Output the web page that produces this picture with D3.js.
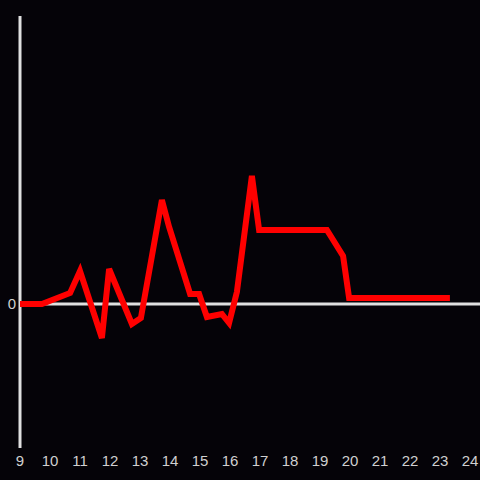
<!DOCTYPE html>
<html>
<head>
<meta charset="utf-8">
<script src="https://cdn.jsdelivr.net/npm/d3@7"></script>
<style>
  html, body { margin: 0; padding: 0; background: #050308; }
  svg { display: block; }
</style>
</head>
<body>
<div id="chart"></div>
<script>
// hour of day and value
const hours = [9, 9.73, 10.67, 11.0, 11.73, 11.97, 12.73, 13.03, 13.73, 13.97, 14.67, 14.97, 15.23, 15.73, 15.97, 16.23, 16.73, 16.97, 19.23, 19.77, 19.97, 23.33]
const values = [0, 0, 0.11, 0.33, -0.34, 0.35, -0.2, -0.14, 1.04, 0.77, 0.1, 0.1, -0.13, -0.1, -0.19, 0.12, 1.28, 0.74, 0.74, 0.48, 0.06, 0.06]
const xTicks = [9, 10, 11, 12, 13, 14, 15, 16, 17, 18, 19, 20, 21, 22, 23, 24]
const yTicks = [0]

const width = 480
const height = 480

const svg = d3.select('#chart')
    .append('svg')
    .attr('width', width)
    .attr('height', height)

svg.append('rect')
    .attr('width', width)
    .attr('height', height)
    .attr('fill', '#050308')

const x = d3.scaleLinear().domain([9, 24]).range([20, 470])
const y = d3.scaleLinear().domain([-1.44, 2.88]).range([448, 16])

// y axis line
svg.append('line')
    .attr('x1', 20).attr('x2', 20)
    .attr('y1', 16).attr('y2', 448)
    .attr('stroke', '#e0e0e0')
    .attr('stroke-width', 3)

// zero line
svg.append('line')
    .attr('x1', 20).attr('x2', width)
    .attr('y1', y(0)).attr('y2', y(0))
    .attr('stroke', '#e0e0e0')
    .attr('stroke-width', 3)

// x tick labels
svg.append('g')
    .selectAll('text')
    .data(xTicks)
    .enter()
    .append('text')
    .attr('x', d => x(d))
    .attr('y', 466)
    .attr('text-anchor', 'middle')
    .attr('fill', '#d0d0d0')
    .style('font-family', '"Liberation Sans", Arial, sans-serif')
    .style('font-size', '15px')
    .text(d => d)

// y tick labels
svg.append('g')
    .selectAll('text')
    .data(yTicks)
    .enter()
    .append('text')
    .attr('x', 16)
    .attr('y', d => y(d) + 5)
    .attr('text-anchor', 'end')
    .attr('fill', '#d0d0d0')
    .style('font-family', '"Liberation Sans", Arial, sans-serif')
    .style('font-size', '15px')
    .text(d => d)

const line = d3.line()
    .x((d, i) => x(hours[i]))
    .y(d => y(d))

svg.append('path')
    .datum(values)
    .attr('d', line)
    .attr('fill', 'none')
    .attr('stroke', '#ff0000')
    .attr('stroke-width', 6)
    .attr('stroke-linejoin', 'miter')
</script>
</body>
</html>
